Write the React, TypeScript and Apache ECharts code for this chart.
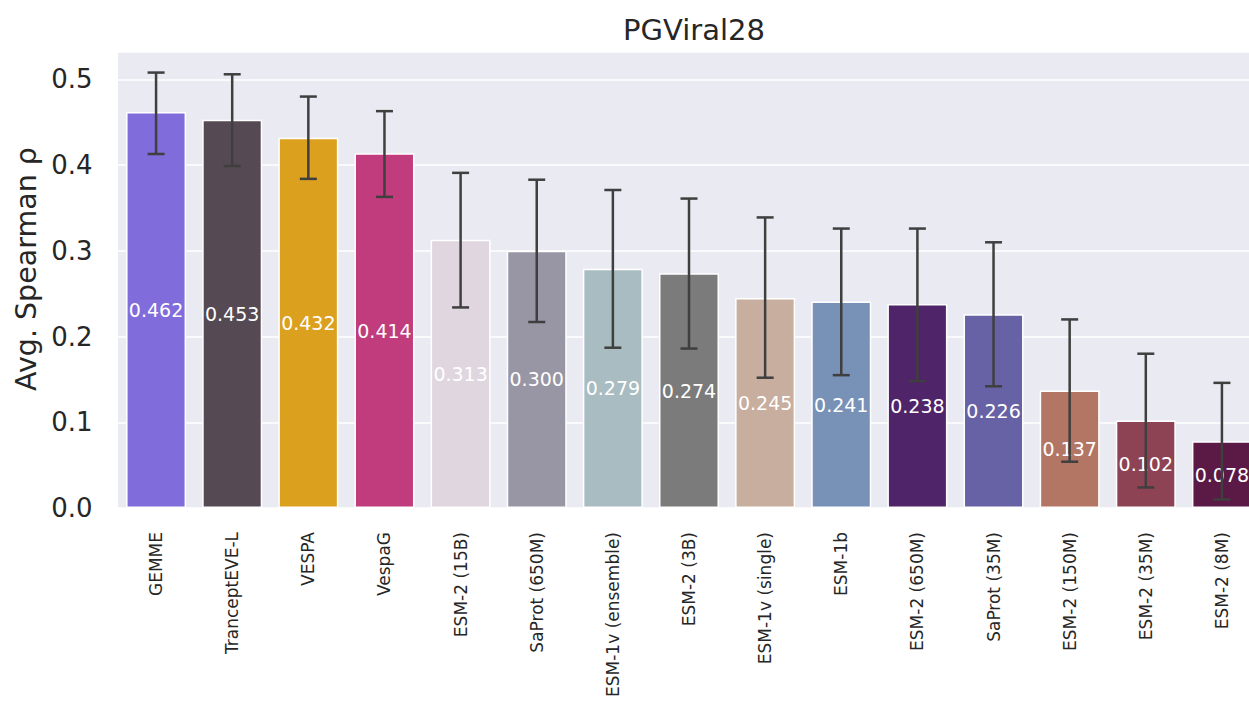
import React, { useEffect, useRef } from "react";
import * as echarts from "echarts";

const categories = [
  "GEMME",
  "TranceptEVE-L",
  "VESPA",
  "VespaG",
  "ESM-2 (15B)",
  "SaProt (650M)",
  "ESM-1v (ensemble)",
  "ESM-2 (3B)",
  "ESM-1v (single)",
  "ESM-1b",
  "ESM-2 (650M)",
  "SaProt (35M)",
  "ESM-2 (150M)",
  "ESM-2 (35M)",
  "ESM-2 (8M)",
];
const values = [0.462, 0.453, 0.432, 0.414, 0.313, 0.3, 0.279, 0.274, 0.245, 0.241, 0.238, 0.226, 0.137, 0.102, 0.078];
const errLow = [0.413, 0.399, 0.384, 0.363, 0.234, 0.217, 0.187, 0.186, 0.152, 0.155, 0.148, 0.142, 0.054, 0.024, 0.01];
const errHigh = [0.508, 0.506, 0.48, 0.463, 0.391, 0.383, 0.371, 0.361, 0.339, 0.326, 0.326, 0.31, 0.22, 0.18, 0.146];
const barColors = [
  "#806CDB",
  "#554A53",
  "#DBA01E",
  "#C13C7C",
  "#E0D6DF",
  "#9896A5",
  "#A9BCC1",
  "#7B7B7B",
  "#C8AE9E",
  "#7891B6",
  "#4F2468",
  "#6761A5",
  "#B47664",
  "#8E4354",
  "#5A1A45",
];
const yTicks = [0, 0.1, 0.2, 0.3, 0.4, 0.5];

const FONT = "DejaVu Sans";

export default function App() {
  const ref = useRef<HTMLDivElement>(null);
  useEffect(() => {
    if (!ref.current) return;
    const chart = echarts.init(ref.current, undefined, { renderer: "svg" });
    const option: any = {
      animation: false,
      backgroundColor: "#ffffff",
      textStyle: { fontFamily: FONT },
      title: {
        text: "PGViral28",
        left: 689,
        textAlign: "center",
        top: 10,
        textStyle: { fontFamily: FONT, fontSize: 29, fontWeight: "normal", color: "#262626" },
      },
      graphic: [
        {
          type: "text",
          x: 26,
          y: 269,
          rotation: Math.PI / 2,
          style: {
            text: "Avg. Spearman ρ",
            fontFamily: FONT,
            fontSize: 28.5,
            fill: "#262626",
            textAlign: "center",
            textVerticalAlign: "middle",
          },
        },
      ],
      grid: {
        left: 118,
        top: 52,
        width: 1142,
        bottom: 194,
        show: true,
        backgroundColor: "#EAEAF2",
        borderWidth: 0,
      },
      xAxis: {
        type: "category",
        data: categories,
        axisLine: { show: false },
        axisTick: { show: false },
        splitLine: { show: false },
        axisLabel: {
          rotate: 90,
          interval: 0,
          margin: 24,
          fontSize: 17,
          fontFamily: FONT,
          color: "#262626",
        },
      },
      yAxis: {
        type: "value",
        min: 0,
        max: 0.532,
        interval: 0.1,
        axisLine: { show: false },
        axisTick: { show: false },
        splitLine: { show: true, lineStyle: { color: "#ffffff", width: 1.6 } },
        axisLabel: {
          margin: 25.5,
          fontSize: 26,
          fontFamily: FONT,
          color: "#262626",
          verticalAlign: "middle",
          formatter: (v: number) => {
            const hit = yTicks.find((t) => Math.abs(t - v) < 1e-6);
            return hit === undefined ? "" : hit.toFixed(1);
          },
        },
      },
      series: [
        {
          type: "bar",
          z: 2,
          barWidth: 60,
          data: values.map((v, i) => ({
            value: v,
            itemStyle: { color: barColors[i], borderColor: "#ffffff", borderWidth: 1.5 },
          })),
          label: {
            show: true,
            position: "inside",
            fontFamily: FONT,
            fontSize: 19,
            color: "#ffffff",
            formatter: (p: any) => Number(p.value).toFixed(3),
          },
        },
        {
          type: "custom",
          z: 5,
          data: categories.map((_, i) => [i, errLow[i], errHigh[i]]),
          renderItem: (params: any, api: any) => {
            const i = api.value(0);
            const lo = api.coord([i, api.value(1)]);
            const hi = api.coord([i, api.value(2)]);
            const cap = 8.5;
            const style = { stroke: "#3f3f3f", lineWidth: 2.5 };
            return {
              type: "group",
              children: [
                { type: "line", shape: { x1: lo[0], y1: lo[1], x2: hi[0], y2: hi[1] }, style },
                { type: "line", shape: { x1: hi[0] - cap, y1: hi[1], x2: hi[0] + cap, y2: hi[1] }, style },
                { type: "line", shape: { x1: lo[0] - cap, y1: lo[1], x2: lo[0] + cap, y2: lo[1] }, style },
              ],
            };
          },
        },
      ],
    };
    chart.setOption(option);
    return () => chart.dispose();
  }, []);
  return (
    <div style={{ position: "absolute", left: 0, top: 0, width: 1249, height: 702, overflow: "hidden", background: "#fff" }}>
      <div ref={ref} style={{ width: 1262, height: 702 }} />
    </div>
  );
}
